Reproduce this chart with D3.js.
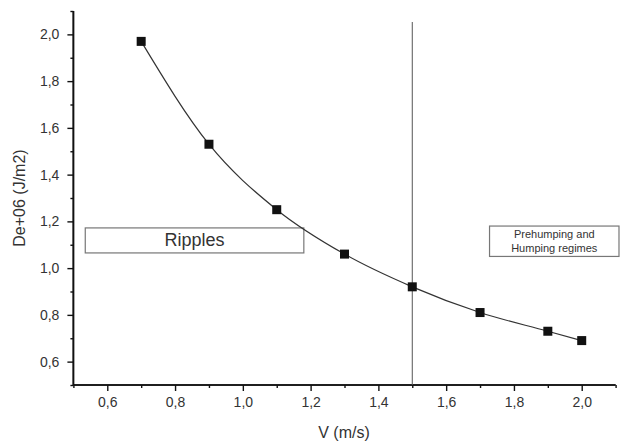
<!DOCTYPE html>
<html>
<head>
<meta charset="utf-8">
<script src="https://cdn.jsdelivr.net/npm/d3@7"></script>
<style>
  html, body { margin: 0; padding: 0; background: #fff; }
  svg { display: block; font-family: "Liberation Sans", Arial, sans-serif; }
</style>
</head>
<body>
<svg id="chart" width="624" height="444"></svg>
<script>
// Welding speed (m/s) against energy density (x1e6 J/m2)
const speeds = [0.7, 0.9, 1.1, 1.3, 1.5, 1.7, 1.9, 2.0];
const energy = [1.97, 1.53, 1.25, 1.06, 0.92, 0.81, 0.73, 0.69];

const xMajorTicks = [0.6, 0.8, 1.0, 1.2, 1.4, 1.6, 1.8, 2.0];
const xMinorTicks = [0.5, 0.7, 0.9, 1.1, 1.3, 1.5, 1.7, 1.9, 2.1];
const yMajorTicks = [0.6, 0.8, 1.0, 1.2, 1.4, 1.6, 1.8, 2.0];
const yMinorTicks = [0.5, 0.7, 0.9, 1.1, 1.3, 1.5, 1.7, 1.9, 2.1];

// Regime boundary and annotation boxes (data coordinates)
const boundarySpeed = [1.5];
const rippleBox = { x0: 0.535, x1: 1.18, y0: 1.065, y1: 1.172, lines: ["Ripples"] };
const humpBox = { x0: 1.728, x1: 2.11, y0: 1.05, y1: 1.18, lines: ["Prehumping and", "Humping regimes"] };

const svg = d3.select("#chart");
const x = d3.scaleLinear().domain([0.5, 2.1]).range([73.4, 615.6]);
const y = d3.scaleLinear().domain([0.5, 2.1]).range([385, 11]);

const fmt = d => d3.format(".1f")(d).replace(".", ",");

// Axes
const xAxis = svg.append("g").attr("transform", `translate(0,${y(0.5)})`);
xAxis.call(d3.axisBottom(x).tickValues(xMajorTicks).tickFormat(fmt).tickSize(6).tickPadding(6));
xAxis.append("g").call(d3.axisBottom(x).tickValues(xMinorTicks).tickFormat("").tickSize(3));
const yAxis = svg.append("g").attr("transform", `translate(${x(0.5)},0)`);
yAxis.call(d3.axisLeft(y).tickValues(yMajorTicks).tickFormat(fmt).tickSize(6).tickPadding(8));
yAxis.append("g").call(d3.axisLeft(y).tickValues(yMinorTicks).tickFormat("").tickSize(3));

svg.selectAll(".domain").attr("stroke", "#111").attr("stroke-width", 1.6);
svg.selectAll(".tick line").attr("stroke", "#111").attr("stroke-width", 1.4);
svg.selectAll(".tick text").attr("fill", "#333").style("font-size", "14px");
xAxis.selectAll(".domain").attr("d", `M${x(0.5)},0H${x(2.1)}`);
yAxis.selectAll(".domain").attr("d", `M0,${y(0.5)}V${y(2.1)}`);

// Axis titles
svg.append("text")
  .attr("x", 344).attr("y", 438)
  .attr("text-anchor", "middle").attr("fill", "#333").style("font-size", "16px")
  .text("V (m/s)");
svg.append("text")
  .attr("transform", `translate(25,${y(1.3)}) rotate(-90)`)
  .attr("text-anchor", "middle").attr("fill", "#333").style("font-size", "16px")
  .text("De+06 (J/m2)");

// Regime boundary
svg.selectAll(".boundary").data(boundarySpeed).join("line")
  .attr("class", "boundary")
  .attr("x1", d => x(d)).attr("x2", d => x(d))
  .attr("y1", 22).attr("y2", y(0.5))
  .attr("stroke", "#555").attr("stroke-width", 1);

// Annotation boxes
function box(b, fontSize, lineH, dy) {
  const g = svg.append("g");
  g.append("rect")
    .attr("x", x(b.x0)).attr("y", y(b.y1))
    .attr("width", x(b.x1) - x(b.x0)).attr("height", y(b.y0) - y(b.y1))
    .attr("fill", "#fff").attr("stroke", "#777").attr("stroke-width", 1.2);
  const cx = (x(b.x0) + x(b.x1)) / 2;
  const cy = (y(b.y0) + y(b.y1)) / 2;
  b.lines.forEach((t, i) => {
    g.append("text")
      .attr("x", cx).attr("y", cy + (i - (b.lines.length - 1) / 2) * lineH + dy)
      .attr("text-anchor", "middle").attr("fill", "#333").style("font-size", fontSize + "px")
      .text(t);
  });
}
box(rippleBox, 18, 0, 6);
box(humpBox, 11, 14, 4);

// Data curve and markers
const pts = speeds.map((s, i) => [s, energy[i]]);
svg.append("path")
  .datum(pts)
  .attr("fill", "none").attr("stroke", "#333").attr("stroke-width", 1.2)
  .attr("d", d3.line().x(d => x(d[0])).y(d => y(d[1])).curve(d3.curveMonotoneX));
const m = 9;
svg.selectAll(".pt").data(pts).join("rect")
  .attr("class", "pt")
  .attr("x", d => x(d[0]) - m / 2).attr("y", d => y(d[1]) - m / 2)
  .attr("width", m).attr("height", m)
  .attr("fill", "#111");
</script>
</body>
</html>
